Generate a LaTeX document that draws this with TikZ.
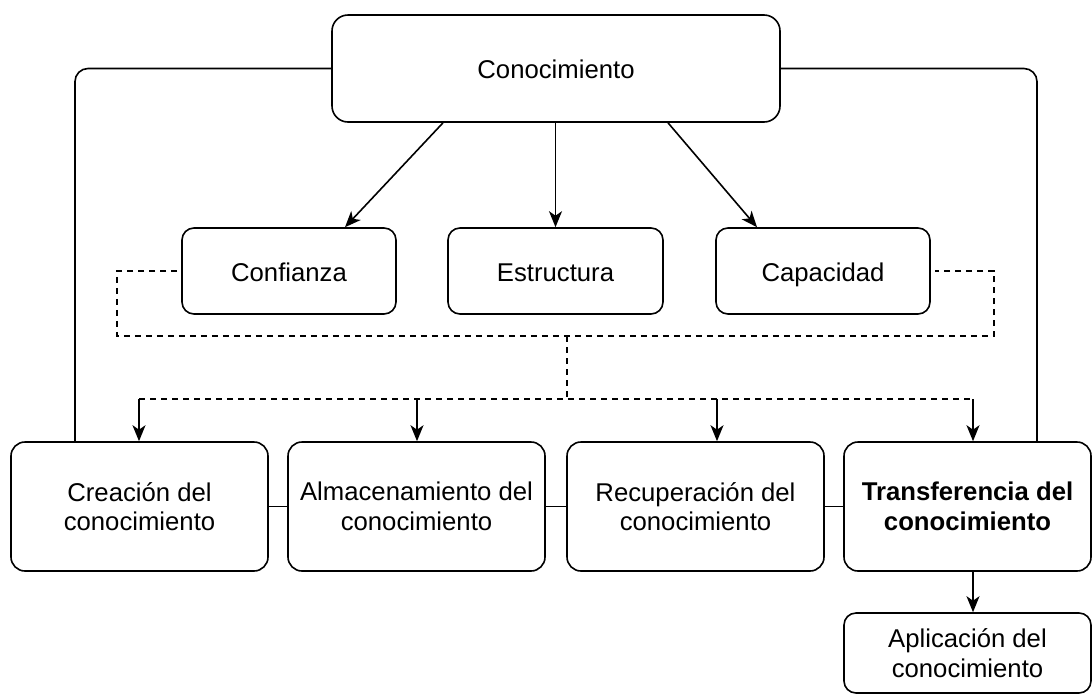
\documentclass[tikz,border=0pt]{standalone}
\usepackage{fontspec}
\setmainfont{Liberation Sans}
\usetikzlibrary{arrows.meta,calc}

\begin{document}
\begin{tikzpicture}[x=1pt,y=-1pt,every path/.append style={line width=1.6pt},
	caja/.style={draw,rounded corners=12pt,align=center,inner sep=0pt,
		font=\fontsize{25.7}{29.5}\selectfont},
	linea/.style={text height=20pt,text depth=0pt},
	flecha/.style={-{Stealth[length=16pt,width=13pt,inset=4.5pt]}},
	guion/.style={dash pattern=on 6pt off 5pt}]
\useasboundingbox (0,0) rectangle (1092,694);

% nodos
\node[caja,linea,minimum width=448pt,minimum height=107pt,rounded corners=16pt] (conoc) at (556,68.5) {Conocimiento};
\node[caja,linea,minimum width=214pt,minimum height=86pt] (confianza) at (289,271) {Confianza};
\node[caja,linea,minimum width=215pt,minimum height=86pt] (estructura) at (555.5,271) {Estructura};
\node[caja,linea,minimum width=214pt,minimum height=86pt] (capacidad) at (823,271) {Capacidad};
\foreach \n/\x/\t in {creacion/139.5/{Creación del\\conocimiento},
	almacen/416.5/{Almacenamiento del\\conocimiento},
	recuper/695.5/{Recuperación del\\conocimiento}} {
	\node[caja,minimum width=257pt,minimum height=129pt,rounded corners=14pt] (\n) at (\x,506.5) {\t};
}
\node[caja,minimum width=247pt,minimum height=129pt,rounded corners=14pt] (transf) at (967.5,506.5) {\bfseries Transferencia del\\\bfseries conocimiento};
\node[caja,minimum width=247pt,minimum height=80pt] (aplic) at (967.5,653) {Aplicación del\\conocimiento};

% flechas desde arriba
\draw[flecha] ($(conoc.south)+(-113,0)$) -- ($(confianza.north)+(56,0)$);
\draw[flecha] (conoc.south -| estructura.north) -- (estructura.north);
\draw[flecha] ($(conoc.south)+(112,0)$) -- ($(capacidad.north)+(-66,0)$);

% lineas laterales
\coordinate (izq) at (75,68);
\coordinate (der) at (1037,68);
\draw[rounded corners=13pt] (conoc.west) -| (creacion.north -| izq);
\draw[rounded corners=13pt] (conoc.east) -| (transf.north -| der);

% bus punteado
\coordinate (bus) at (567,336);
\coordinate (reparto) at (567,399);
\draw[guion,shorten <=4pt,shorten >=4pt] (confianza.west) -| (117,336) -- (994,336) |- (capacidad.east);
\draw[guion] (bus) -- (reparto);
\draw[guion] (139,399) -- (973,399);
\foreach \n/\x in {creacion/139,almacen/417,recuper/717,transf/973} {
	\coordinate (r\n) at (\x,399);
	\draw[flecha] (r\n) -- (r\n |- \n.north);
}

% fila inferior
\draw (creacion.east) -- (almacen.west);
\draw (almacen.east) -- (recuper.west);
\draw (recuper.east) -- (transf.west);
\draw[flecha] (transf.south -| rtransf) -- (aplic.north -| rtransf);
\end{tikzpicture}
\end{document}
